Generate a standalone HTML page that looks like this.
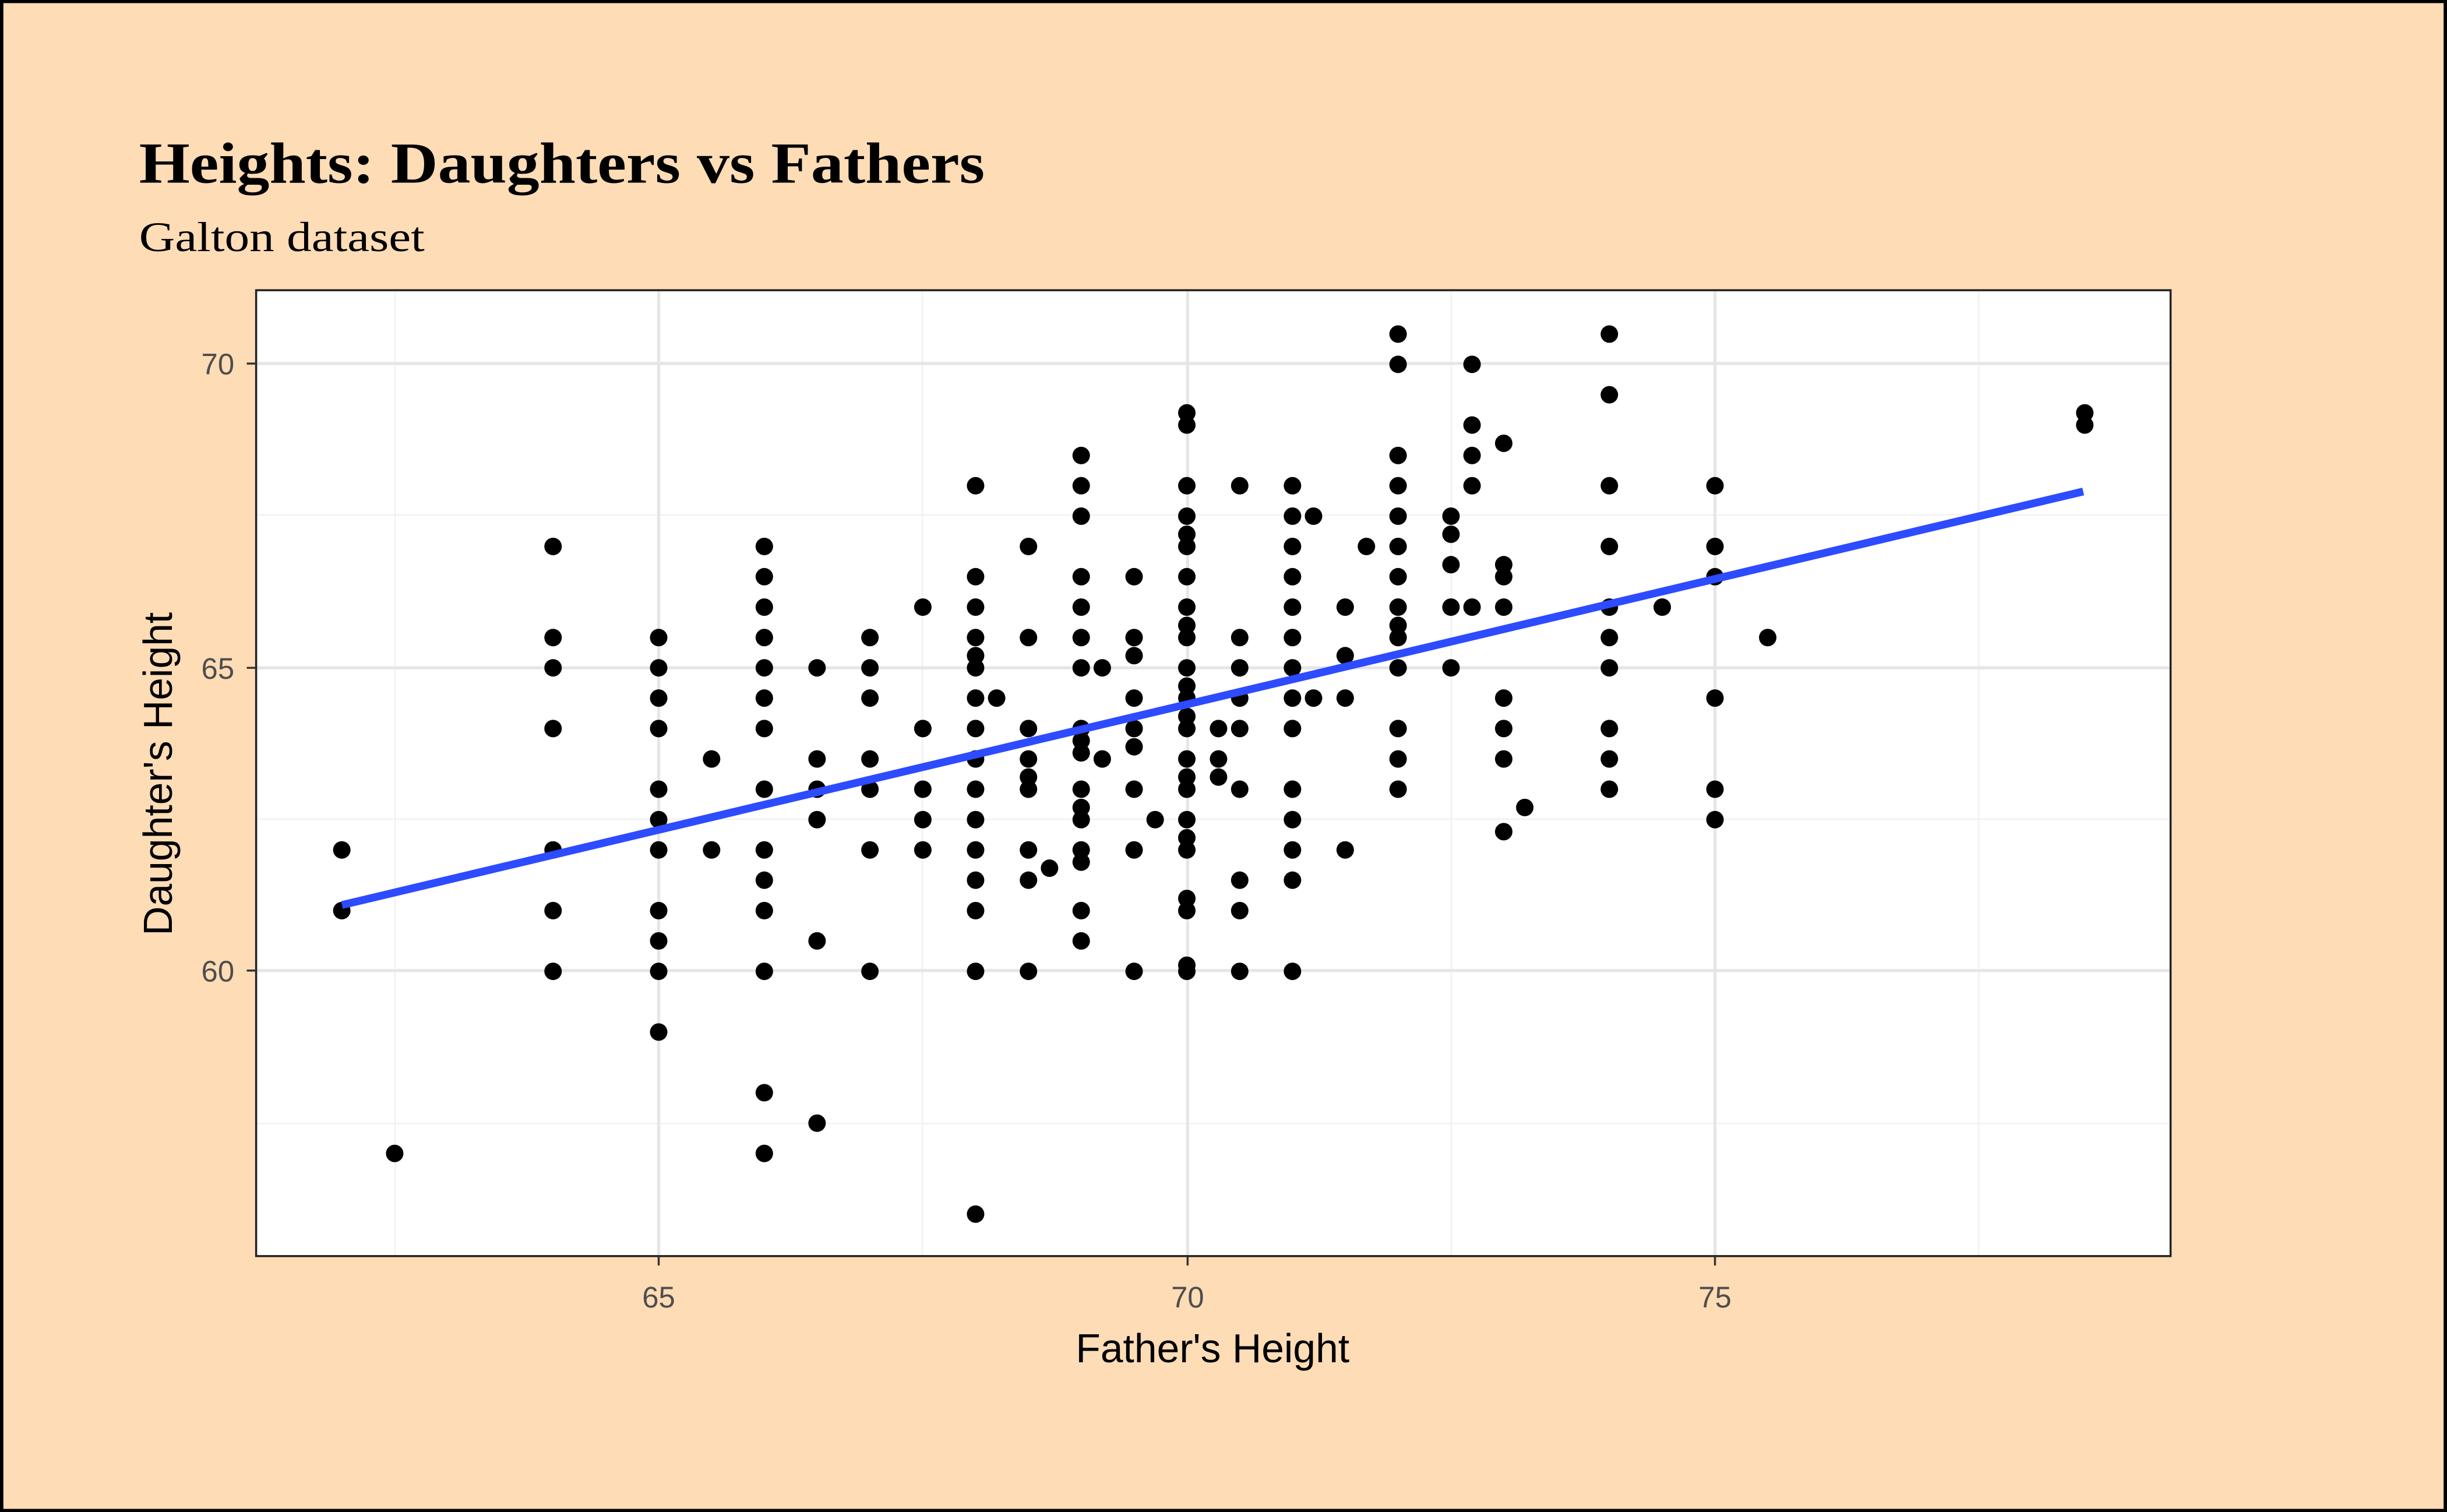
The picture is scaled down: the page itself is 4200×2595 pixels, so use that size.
<!DOCTYPE html>
<html><head><meta charset="utf-8"><style>
html,body{margin:0;padding:0;background:#fddcb6;}
svg{display:block;}
</style></head><body>
<svg id="s" width="4200" height="2595" viewBox="0 0 1568 969" xmlns="http://www.w3.org/2000/svg">
<rect x="0" y="0" width="1568" height="969" fill="#fddcb6" stroke="#000" stroke-width="4"/>
<text x="89" y="117" font-family="Liberation Serif, serif" font-weight="bold" font-size="37" fill="#000" textLength="542" lengthAdjust="spacingAndGlyphs">Heights: Daughters vs Fathers</text>
<text x="89" y="161" font-family="Liberation Serif, serif" font-size="27" fill="#000" textLength="183" lengthAdjust="spacingAndGlyphs">Galton dataset</text>
<rect x="164" y="186" width="1227" height="619" fill="#fff"/>
<g stroke="#f2f2f2" stroke-width="1">
<line x1="253" y1="186" x2="253" y2="805"/><line x1="591" y1="186" x2="591" y2="805"/><line x1="930" y1="186" x2="930" y2="805"/><line x1="1268" y1="186" x2="1268" y2="805"/>
<line x1="164" y1="330" x2="1391" y2="330"/><line x1="164" y1="525" x2="1391" y2="525"/><line x1="164" y1="720" x2="1391" y2="720"/>
</g>
<g stroke="#e6e6e6" stroke-width="2">
<line x1="422" y1="186" x2="422" y2="805"/><line x1="761" y1="186" x2="761" y2="805"/><line x1="1099" y1="186" x2="1099" y2="805"/>
<line x1="164" y1="233" x2="1391" y2="233"/><line x1="164" y1="428" x2="1391" y2="428"/><line x1="164" y1="622" x2="1391" y2="622"/>
</g>
<g id="pts" fill="#000"></g>
<line x1="219" y1="580" x2="1335" y2="315" stroke="#2d4bff" stroke-width="5"/>
<rect x="164" y="186" width="1227" height="619" fill="none" stroke="#222" stroke-width="1.3"/>
<g stroke="#333" stroke-width="1.3">
<line x1="422" y1="805" x2="422" y2="811"/><line x1="761" y1="805" x2="761" y2="811"/><line x1="1099" y1="805" x2="1099" y2="811"/>
<line x1="158" y1="233" x2="164" y2="233"/><line x1="158" y1="428" x2="164" y2="428"/><line x1="158" y1="622" x2="164" y2="622"/>
</g>
<g font-family="Liberation Sans Narrow, Liberation Sans, sans-serif" font-size="19" fill="#4d4d4d">
<text x="422" y="838" text-anchor="middle">65</text><text x="761" y="838" text-anchor="middle">70</text><text x="1099" y="838" text-anchor="middle">75</text>
<text x="150" y="240" text-anchor="end">70</text><text x="150" y="435" text-anchor="end">65</text><text x="150" y="629" text-anchor="end">60</text>
</g>
<g font-family="Liberation Sans Narrow, Liberation Sans, sans-serif" font-size="26" fill="#000">
<text x="777" y="873" text-anchor="middle">Father's Height</text>
<text transform="translate(110,496) rotate(-90)" text-anchor="middle">Daughter's Height</text>
</g>
</svg>
<script>
var d={62:[62,61],62.5:[57],64:[67,65.5,65,64,62,61,60],65:[65.5,65,64.5,64,63,62.5,62,61,60.5,60,59],65.5:[63.5,62],
66:[67,66.5,66,65.5,65,64.5,64,63,62,61.5,61,60,58,57],66.5:[65,63.5,63,62.5,60.5,57.5],67:[65.5,65,64.5,63.5,63,62,60],
67.5:[66,64,63,62.5,62],68:[68,66.5,66,65.5,65.2,65,64.5,64,63.5,63,62.5,62,61.5,61,60,56],68.2:[64.5],
68.5:[67,65.5,64,63.5,63.2,63,62,61.5,60],68.7:[61.7],69:[68.5,68,67.5,66.5,66,65.5,65,64,63.8,63.6,63,62.7,62.5,62,61.8,61,60.5],
69.2:[65,63.5],69.5:[66.5,65.5,65.2,64.5,64,63.7,63,62,60],69.7:[62.5],
70:[69.2,69,68,67.5,67.2,67,66.5,66,65.7,65.5,65,64.7,64.5,64.2,64,63.5,63.2,63,62.5,62.2,62,61.2,61,60.1,60],
70.3:[64,63.5,63.2],70.5:[68,65.5,65,64.5,64,63,61.5,61,60],71:[68,67.5,67,66.5,66,65.5,65,64.5,64,63,62.5,62,61.5,60],
71.2:[67.5,64.5],71.5:[66,65.2,64.5,62],71.7:[67],72:[70.5,70,68.5,68,67.5,67,66.5,66,65.7,65.5,65,64,63.5,63],
72.5:[67.5,67.2,66.7,66,65],72.7:[70,69,68.5,68,66],73:[68.7,66.7,66.5,66,64.5,64,63.5,62.3],73.2:[62.7],
74:[70.5,69.5,68,67,66,65.5,65,64,63.5,63],74.5:[66],75:[68,67,66.5,64.5,63,62.5],75.5:[65.5],78.5:[69.2,69]};
var g=document.getElementById('pts'),h='';
for(var k in d){var x=422+(parseFloat(k)-65)*67.7;d[k].forEach(function(v){var y=428-(v-65)*38.9;h+='<circle cx="'+x.toFixed(1)+'" cy="'+y.toFixed(1)+'" r="5.6"/>';});}
g.innerHTML=h;
</script>
</body></html>
